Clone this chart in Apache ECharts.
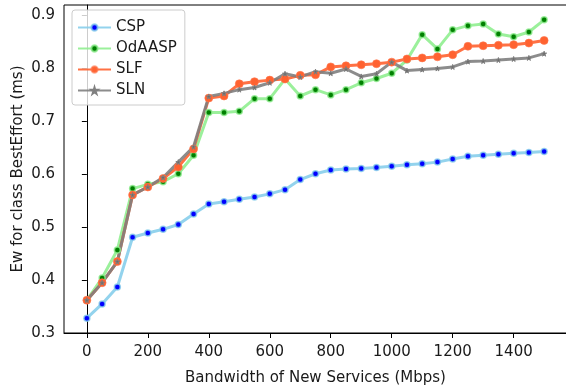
<!DOCTYPE html>
<html>
<head>
<meta charset="utf-8">
<script src="https://cdn.jsdelivr.net/npm/echarts@6/dist/echarts.min.js"></script>
<style>
  html, body { margin: 0; padding: 0; background: #fff; }
  #chart { width: 566px; height: 385px; }
</style>
</head>
<body>
<div id="chart"></div>
<script>
// bandwidth of new services, Mbps
const bandwidth = [0, 50, 100, 150, 200, 250, 300, 350, 400, 450, 500, 550, 600, 650, 700, 750,
  800, 850, 900, 950, 1000, 1050, 1100, 1150, 1200, 1250, 1300, 1350, 1400, 1450, 1500]

const csp = [0.328, 0.355, 0.387, 0.481, 0.489, 0.496, 0.505, 0.525, 0.544, 0.548, 0.553, 0.557,
  0.563, 0.571, 0.590, 0.601, 0.608, 0.610, 0.611, 0.613, 0.615, 0.618, 0.620, 0.623, 0.629,
  0.634, 0.636, 0.638, 0.640, 0.641, 0.643]
const odaasp = [0.362, 0.404, 0.457, 0.573, 0.581, 0.586, 0.601, 0.636, 0.717, 0.717, 0.719, 0.743,
  0.743, 0.780, 0.748, 0.760, 0.750, 0.760, 0.773, 0.781, 0.791, 0.816, 0.864, 0.837, 0.873,
  0.881, 0.884, 0.865, 0.860, 0.869, 0.892]
const slf = [0.362, 0.395, 0.435, 0.561, 0.576, 0.592, 0.614, 0.648, 0.744, 0.748, 0.771, 0.775,
  0.778, 0.780, 0.787, 0.788, 0.803, 0.805, 0.807, 0.809, 0.812, 0.818, 0.820, 0.822, 0.826,
  0.842, 0.843, 0.844, 0.845, 0.848, 0.853]
const sln = [0.362, 0.395, 0.435, 0.561, 0.576, 0.594, 0.623, 0.652, 0.747, 0.753, 0.760, 0.764,
  0.773, 0.790, 0.784, 0.794, 0.791, 0.799, 0.785, 0.790, 0.812, 0.796, 0.798, 0.800, 0.803,
  0.813, 0.814, 0.816, 0.818, 0.820, 0.828]

const xTicks = [0, 200, 400, 600, 800, 1000, 1200, 1400]
const yTicks = [0.3, 0.4, 0.5, 0.6, 0.7, 0.8, 0.9]

const font = '"DejaVu Sans", sans-serif'
const star = 'path://M50,0 L61,35 L98,35 L68,57 L79,91 L50,70 L21,91 L32,57 L2,35 L39,35 Z'

function pairs (ys) {
  return bandwidth.map((x, i) => [x, ys[i]])
}

function makeSeries (name, ys, lineColor, markColor, symbol, size, borderColor, bw) {
  return {
    name: name,
    type: 'line',
    data: pairs(ys),
    symbol: symbol,
    symbolSize: size,
    showSymbol: true,
    lineStyle: { color: lineColor, width: 3, opacity: 0.9 },
    itemStyle: { color: markColor, borderColor: borderColor, borderWidth: bw },
    emphasis: { disabled: true },
    animation: false
  }
}

const chart = echarts.init(document.getElementById('chart'))
chart.setOption({
  animation: false,
  grid: {
    left: 64, right: -1, top: 5, bottom: 52,
    outerBoundsMode: 'none', containLabel: false,
    show: true, borderColor: '#000', borderWidth: 1
  },
  legend: {
    orient: 'vertical',
    left: 72,
    top: 10,
    padding: [10, 8, 7, 5],
    itemWidth: 33,
    itemHeight: 8,
    itemGap: 6,
    borderColor: '#cccccc',
    borderWidth: 1,
    borderRadius: 3,
    backgroundColor: 'rgba(255,255,255,0.8)',
    textStyle: { fontFamily: font, fontSize: 15, color: '#1a1a1a' },
    data: ['CSP', 'OdAASP', 'SLF', 'SLN']
  },
  xAxis: {
    type: 'value',
    min: -75,
    max: 1575,
    name: 'Bandwidth of New Services (Mbps)',
    nameLocation: 'middle',
    nameGap: 38,
    nameMoveOverlap: false,
    nameTextStyle: { fontFamily: font, fontSize: 15, color: '#1a1a1a' },
    axisLine: { show: true, lineStyle: { color: '#000', width: 1 } },
    axisTick: { show: true, length: 5, lineStyle: { color: '#000' }, customValues: xTicks },
    axisLabel: {
      fontFamily: font, fontSize: 15, color: '#1a1a1a', margin: 12, customValues: xTicks,
      formatter: v => String(v)
    },
    splitLine: { show: false }
  },
  yAxis: {
    type: 'value',
    min: 0.3,
    max: 0.92,
    name: 'Ew for class BestEffort (ms)',
    nameLocation: 'middle',
    nameGap: 38,
    nameMoveOverlap: false,
    nameTextStyle: { fontFamily: font, fontSize: 15, color: '#1a1a1a' },
    axisLine: { show: true, lineStyle: { color: '#000', width: 1 } },
    axisTick: { show: true, length: 5, lineStyle: { color: '#000' }, customValues: yTicks },
    axisLabel: {
      fontFamily: font, fontSize: 15, color: '#1a1a1a', margin: 9, customValues: yTicks,
      formatter: v => v.toFixed(1)
    },
    splitLine: { show: false }
  },
  series: [
    makeSeries('CSP', csp, '#87CEEB', '#0000FF', 'circle', 6, 'rgba(135,206,235,0.8)', 1.5),
    makeSeries('OdAASP', odaasp, '#90EE90', '#008000', 'circle', 6, 'rgba(144,238,144,0.8)', 1.5),
    makeSeries('SLF', slf, '#FF6230', '#FF6230', 'circle', 8, 'rgba(255,120,80,0.6)', 1),
    makeSeries('SLN', sln, '#808080', '#6a6a6a', star, 5, '#808080', 1)
  ]
})
</script>
</body>
</html>
